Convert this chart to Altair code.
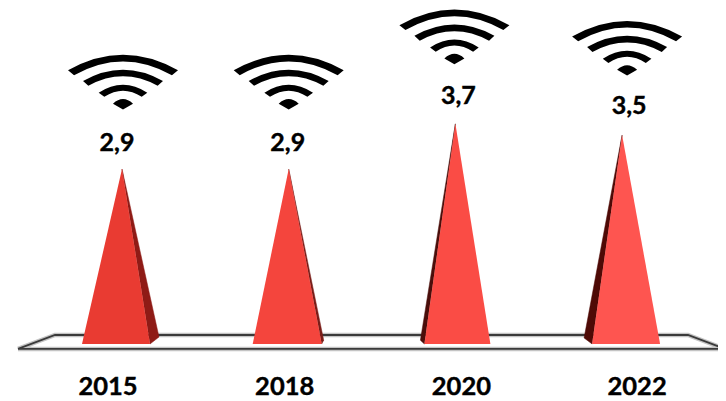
import altair as alt
import pandas as pd

years = ["2015", "2018", "2020", "2022"]
values = [2.9, 2.9, 3.7, 3.5]
labels = ["2,9", "2,9", "3,7", "3,5"]
front_colors = ["#E93B32", "#F4453D", "#FA4C45", "#FE5550"]
shade_colors = ["#8F1B16", "#7A1D18", "#4A0E0B", "#4E0A06"]

PX = 166.7            # pixels per category step
BASE = -0.197         # value at the foot of the cones
FLOOR_BACK, FLOOR_FRONT = -0.038, -0.285
left_px = [-40, -36, -31, -30]
right_px = [28, 33, 35, 38]
shade_px = [37, 35, -35, -38]
shade_y = [-0.073, -0.13, -0.13, -0.09]
label_dx = [-5, -1, 3, 7]
label_up = [0.46, 0.46, 0.49, 0.51]
year_dx = [-14, -4, 6, 15]
icon_dx = [1, 0, -1, 5]
ICON_UP = 1.54

WIFI = ("M-1 -.212Q0 -.778 1 -.212L.89 -.125Q0 -.625 -.89 -.125Z"
        "M-.727 -.018Q0 -.428 .727 -.018L.63 .07Q0 -.275 -.63 .07Z"
        "M-.442 .194Q0 -.094 .442 .194L.34 .27Q0 .045 -.34 .27Z"
        "M-.182 .394Q0 .226 .182 .394L0 .5Z")

front, shade, tops, years_df = [], [], [], []
for i, (yr, v) in enumerate(zip(years, values)):
    front += [
        dict(yr=yr, x=i + left_px[i] / PX, y=BASE, y2=BASE, c=front_colors[i]),
        dict(yr=yr, x=float(i), y=v, y2=BASE, c=front_colors[i]),
        dict(yr=yr, x=i + right_px[i] / PX, y=BASE, y2=BASE, c=front_colors[i]),
    ]
    base_x = left_px[i] if shade_px[i] < 0 else right_px[i]
    shade += [
        dict(yr=yr, k=0, x=float(i), y=v, c=shade_colors[i]),
        dict(yr=yr, k=1, x=i + shade_px[i] / PX, y=shade_y[i], c=shade_colors[i]),
        dict(yr=yr, k=2, x=i + base_x / PX, y=BASE, c=shade_colors[i]),
        dict(yr=yr, k=3, x=float(i), y=v, c=shade_colors[i]),
    ]
    tops.append(dict(yr=yr, icon_x=i + icon_dx[i] / PX, icon_y=v + ICON_UP,
                     lx=i + label_dx[i] / PX, ly=v + label_up[i], label=labels[i]))
    years_df.append(dict(yr=yr, x=i + year_dx[i] / PX, y=BASE - 43 / 56.5))

floor_df = pd.DataFrame([
    dict(k=0, x=-104 / PX, y=FLOOR_FRONT),
    dict(k=1, x=-67 / PX, y=FLOOR_BACK),
    dict(k=2, x=566 / PX, y=FLOOR_BACK),
    dict(k=3, x=603 / PX, y=FLOOR_FRONT),
    dict(k=4, x=-104 / PX, y=FLOOR_FRONT),
])

xs = alt.Scale(domain=[-114 / PX, 596 / PX], nice=False, zero=False)
ys = alt.Scale(domain=[-1.206, 5.75], nice=False, zero=False)
X = alt.X("x:Q", scale=xs, axis=None)
Y = alt.Y("y:Q", scale=ys, axis=None)

halo = alt.Chart(floor_df).mark_line(stroke="#C4C4C4", strokeWidth=4.5).encode(X, Y, order="k:Q")
floor = alt.Chart(floor_df).mark_line(stroke="#3A3A3A", strokeWidth=1.8).encode(X, Y, order="k:Q")

shade_layer = alt.Chart(pd.DataFrame(shade)).mark_line(strokeWidth=0.5).encode(
    X, Y, order="k:Q", detail="yr:N",
    fill=alt.Fill("c:N", scale=None), stroke=alt.Stroke("c:N", scale=None))

front_layer = alt.Chart(pd.DataFrame(front)).mark_area(interpolate="linear").encode(
    X, Y, y2="y2:Q", detail="yr:N", color=alt.Color("c:N", scale=None))

icons = alt.Chart(pd.DataFrame(tops)).mark_point(
    shape=WIFI, size=12100, filled=True, fill="#000000", stroke=None, opacity=1
).encode(x=alt.X("icon_x:Q", scale=xs, axis=None), y=alt.Y("icon_y:Q", scale=ys, axis=None))

val_text = alt.Chart(pd.DataFrame(tops)).mark_text(
    font="Lato", fontSize=25, fontWeight="bold", color="#000000", stroke="#000000", strokeWidth=0.4
).encode(x=alt.X("lx:Q", scale=xs, axis=None), y=alt.Y("ly:Q", scale=ys, axis=None), text="label:N")

year_text = alt.Chart(pd.DataFrame(years_df)).mark_text(
    font="Lato", fontSize=25.5, fontWeight="bold", color="#000000", stroke="#000000", strokeWidth=0.4
).encode(X, Y, text="yr:N")

chart = alt.layer(halo, floor, shade_layer, front_layer, icons, val_text, year_text).properties(
    width=710, height=393, padding=0, background="#FFFFFF",
    autosize=alt.AutoSizeParams(type="none")
).configure_view(stroke=None)

chart.save("out.html", embed_options={"renderer": "svg", "actions": False})
